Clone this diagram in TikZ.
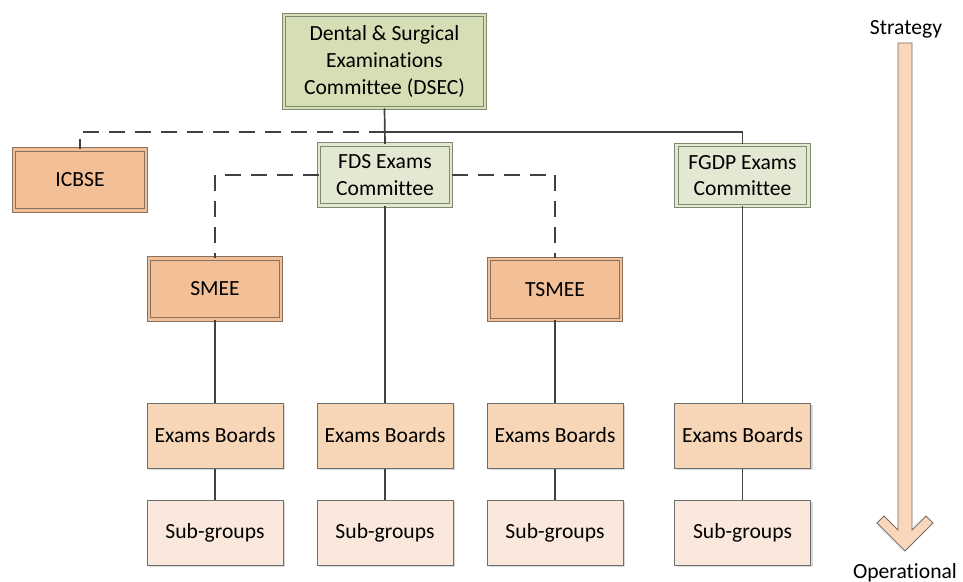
\documentclass[tikz,border=0pt]{standalone}
\usepackage{fontspec}
\setmainfont{Carlito}[Ligatures=NoCommon]
\usetikzlibrary{shadows}
\definecolor{dsecfill}{HTML}{D5DEB5}
\definecolor{fdsfill}{HTML}{E2E8D2}
\definecolor{greenline}{HTML}{7E8A70}
\definecolor{orfill}{HTML}{F3BF96}
\definecolor{orline}{HTML}{86705F}
\definecolor{ebfill}{HTML}{F7D5B7}
\definecolor{sgfill}{HTML}{FBE8DC}
\definecolor{boxline}{HTML}{6E6E6E}
\definecolor{connline}{HTML}{404040}
\definecolor{arrlight}{HTML}{FAD6BA}
\definecolor{arrmid}{HTML}{F4BD8F}
\begin{document}
\begin{tikzpicture}[x=0.5pt,y=-0.5pt,
  font=\fontsize{10.8}{13.3}\selectfont,
  box/.style={rectangle, inner sep=0pt, align=center, line width=0.5pt,
    drop shadow={shadow xshift=1.2pt,shadow yshift=-1.2pt,opacity=0.3,fill=black!50}},
  dblbox/.style={box, double distance=1.1pt, minimum width=66pt, minimum height=30.5pt},
  greenbox/.style={dblbox, draw=greenline, fill=fdsfill, double=fdsfill},
  orbox/.style={dblbox, draw=orline, fill=orfill, double=orfill},
  ebbox/.style={box, draw=boxline, fill=ebfill, minimum width=68pt, minimum height=32.5pt},
  sgbox/.style={box, draw=boxline, fill=sgfill, minimum width=68pt, minimum height=32.5pt},
  conn/.style={draw=connline, line width=0.85pt},
  dashline/.style={conn, dash pattern=on 8pt off 5pt}
]
\useasboundingbox (0,0) rectangle (963,582);

% nodes
\node[greenbox, fill=dsecfill, double=dsecfill, minimum width=100.5pt, minimum height=46.5pt]
  (dsec) at (384.5,61.5) {Dental \& Surgical\\Examinations\\Committee (DSEC)};
\node[orbox] (icbse) at (80,180) {ICBSE};
\node[greenbox] (fds) at (385,175) {FDS Exams\\Committee};
\node[greenbox] (fgdp) at (742.5,175.5) {FGDP Exams\\Committee};
\node[orbox] (smee) at (215,289) {SMEE};
\node[orbox] (tsmee) at (555,289.5) {TSMEE};

\node[ebbox] (eb1) at (215,435.5) {Exams Boards};
\node[ebbox] (eb2) at (385,435.5) {Exams Boards};
\node[ebbox] (eb3) at (555,435.5) {Exams Boards};
\node[ebbox] (eb4) at (742.5,435.5) {Exams Boards};

\node[sgbox] (sg1) at (215,532.5) {Sub-groups};
\node[sgbox] (sg2) at (385,532.5) {Sub-groups};
\node[sgbox] (sg3) at (555,532.5) {Sub-groups};
\node[sgbox] (sg4) at (742.5,532.5) {Sub-groups};

% connectors
\coordinate (j) at (385,132);
\draw[conn] (dsec.south) -- (fds.north);
\draw[conn] (j) -| (fgdp.north);
\draw[dashline] (j) -| (icbse.north);
\draw[dashline] (fds.west) -| (smee.north);
\draw[dashline] (fds.east) -| (tsmee.north);
\draw[conn] (fds.south) -- (eb2.north);
\draw[conn] (smee.south) -- (eb1.north);
\draw[conn] (tsmee.south) -- (eb3.north);
\draw[conn] (fgdp.south) -- (eb4.north);
\draw[conn] (eb1.south) -- (sg1.north);
\draw[conn] (eb2.south) -- (sg2.north);
\draw[conn] (eb3.south) -- (sg3.north);
\draw[conn] (eb4.south) -- (sg4.north);

% strategy arrow
\shade[top color=arrlight, middle color=arrmid, bottom color=arrlight, draw=boxline, line width=0.4pt]
  (898,43) -- (912,43) -- (912,530) -- (926,516) -- (933,523) -- (905,551)
  -- (877,523) -- (884,516) -- (898,530) -- cycle;
\node[anchor=base] (strat) at (906,35) {Strategy};
\node[anchor=base] (oper) at (905,578) {Operational};
\end{tikzpicture}
\end{document}
